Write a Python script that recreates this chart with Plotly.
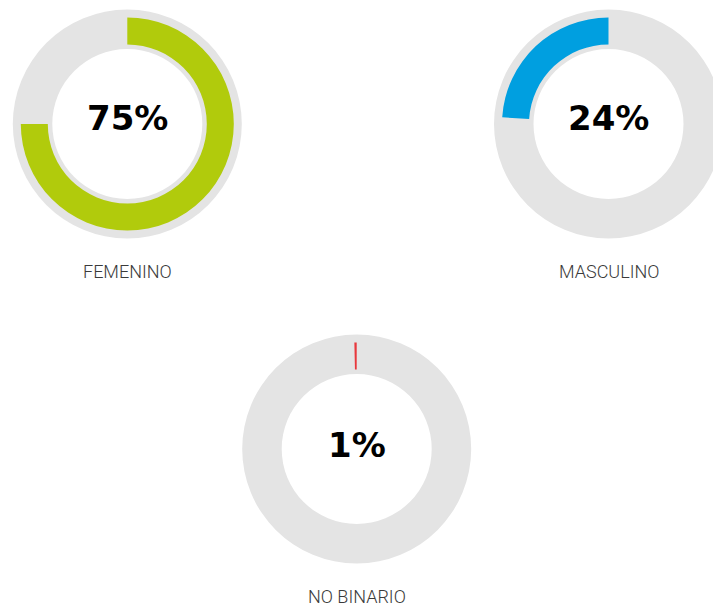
import plotly.graph_objects as go

# ---- data ----
categories = ["FEMENINO", "MASCULINO", "NO BINARIO"]
pct_labels = [75, 24, 1]          # printed percentages
arc_values = [75, 24, 0.35]       # visible arc share of each ring
colors = ["#B1CB0C", "#009FE0", "#E8383D"]
arc_first = [True, False, False]  # True: arc drawn clockwise from 12 o'clock; False: arc ends at 12 o'clock

W, H = 724, 605
# ring centres (pixels), text centre offsets and radii
centers = [(127.3, 124), (608.5, 124), (356.7, 449)]
text_dy = [-6, -6, -4.5]
R_GREY, R_GREY_IN = 114.5, 75
R_ARC, R_ARC_IN = 106.5, 79.5


def domain(cx, cy, r):
    yb = H - cy
    return dict(x=[(cx - r) / W, (cx + r) / W], y=[(yb - r) / H, (yb + r) / H])


fig = go.Figure()
for i, cat in enumerate(categories):
    cx, cy = centers[i]
    fig.add_trace(go.Pie(
        values=[100], labels=["fondo"], hole=R_GREY_IN / R_GREY, sort=False,
        marker=dict(colors=["#E4E4E4"], line=dict(width=0)),
        textinfo="none", hoverinfo="skip", showlegend=False,
        domain=domain(cx, cy, R_GREY),
    ))
    v = arc_values[i]
    if arc_first[i]:
        vals, cols, labs = [v, 100 - v], [colors[i], "rgba(0,0,0,0)"], [cat, "resto"]
    else:
        vals, cols, labs = [100 - v, v], ["rgba(0,0,0,0)", colors[i]], ["resto", cat]
    fig.add_trace(go.Pie(
        values=vals, labels=labs,
        hole=R_ARC_IN / R_ARC, sort=False, direction="clockwise", rotation=0,
        marker=dict(colors=cols, line=dict(width=0)),
        textinfo="none", hoverinfo="skip", showlegend=False,
        domain=domain(cx, cy, R_ARC),
    ))
    fig.add_annotation(
        x=cx / W, y=1 - (cy + text_dy[i]) / H, xref="paper", yref="paper",
        text=f"<b>{pct_labels[i]}%</b>", showarrow=False,
        font=dict(family="DejaVu Sans", size=34, color="#000000"),
        xanchor="center", yanchor="middle",
    )
    fig.add_annotation(
        x=cx / W, y=1 - (cy + 147) / H, xref="paper", yref="paper",
        text=cat, showarrow=False,
        font=dict(family="Roboto", size=18, color="#3a3a3a", weight=300),
        xanchor="center", yanchor="middle",
    )

fig.update_layout(
    width=W, height=H, margin=dict(l=0, r=0, t=0, b=0),
    paper_bgcolor="white", plot_bgcolor="white", showlegend=False,
)
fig.write_html(
    "out.html",
    config={"displayModeBar": False},
    post_script="document.body.style.margin='0';document.body.style.overflow='hidden';",
)
